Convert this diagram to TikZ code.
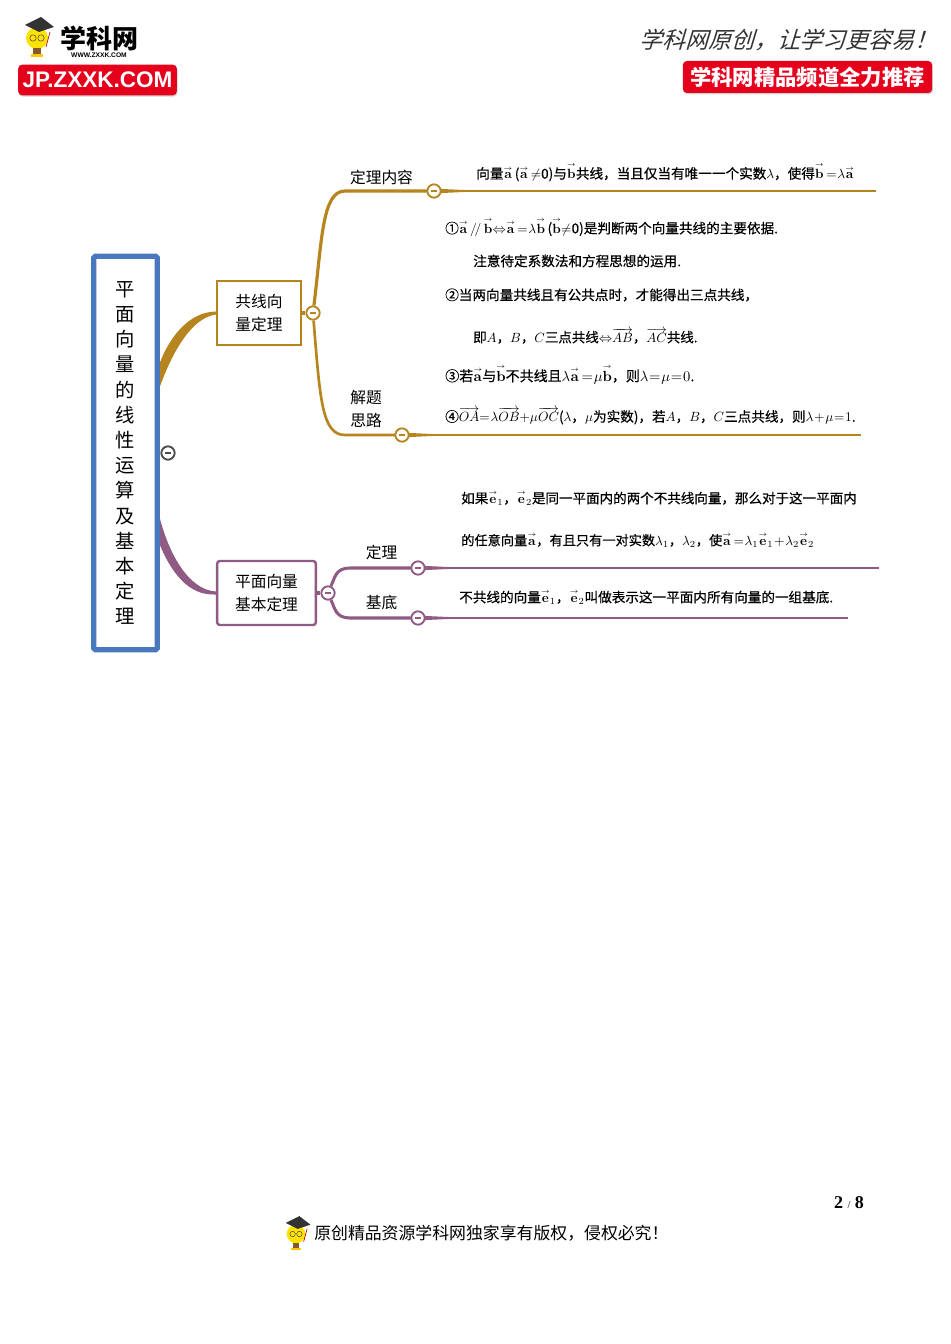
\documentclass[tikz,border=0pt]{standalone}
\usepackage[no-math]{fontspec}
\usepackage{amsmath}
\usetikzlibrary{shadows,calc,backgrounds}
\setmainfont{Liberation Serif}
\newfontfamily\cjk{Noto Sans CJK SC}
\newfontfamily\cjkbody[FakeBold=0.5]{Noto Sans CJK SC}
\newfontfamily\cjkhand[AutoFakeSlant=0.3]{Noto Sans CJK SC}
\newfontfamily\logofont{Liberation Sans}
\definecolor{goldline}{HTML}{B7851F}
\definecolor{plumline}{HTML}{8F5A83}
\definecolor{rootblue}{HTML}{4A78BC}
\definecolor{logored}{HTML}{E5001C}
\thickmuskip=1mu
\medmuskip=1mu
\newcommand{\vect}[1]{\ensuremath{\overset{\scriptscriptstyle\rightarrow}{\mathbf{#1}}}}
\newcommand{\vecl}[1]{\ensuremath{\overrightarrow{#1}}}
\newcommand{\minusbar}{\rule{4.6pt}{1.1pt}}
\tikzset{
    rootbox/.style = {draw=rootblue, line width=3.9pt, rounded corners=1pt, minimum width=47.5pt, minimum height=295pt, inner sep=0pt, align=center, font=\cjk\fontsize{14.5pt}{18.9pt}\selectfont},
    subbox/.style = {draw=#1, line width=1.8pt, fill=white, inner sep=0pt, align=center, font=\cjk\fontsize{11.8pt}{16.8pt}\selectfont},
    topic/.style = {inner sep=0pt, align=left, font=\cjk\fontsize{11.8pt}{16.6pt}\selectfont},
    collapse/.style = {circle, draw=#1, text=#1, fill=white, line width=1.4pt, minimum size=10pt, inner sep=0pt},
    bodytext/.style = {anchor=west, inner sep=0pt, font=\cjkbody\fontsize{#1pt}{#1pt}\selectfont},
    logobox/.style = {fill=logored, rounded corners=3pt, text=white, inner sep=0pt, drop shadow={opacity=.35, shadow xshift=.6pt, shadow yshift=-1pt}},
    mascot/.pic = {
        \fill[yellow!85!orange] (0,0) circle (11);
        \fill[black!80] (-12,-13) -- (4,-21) -- (17,-11) -- (2,-6) -- cycle;
        \draw[black!70, line width=.4pt] (-4,0) circle (3.2) (4,0) circle (3.2);
        \draw[red!70!black, line width=.5pt] (13,-6) -- (9,9);
        \fill[brown!70!black] (-4,10) rectangle (4,16);
        \fill[yellow!60!orange] (-6,16) rectangle (6,19);
    }
}
\begin{document}
\begin{tikzpicture}[x=0.75pt, y=-0.75pt]
\useasboundingbox (0,0) rectangle (950,1344);

\pic at (37,38) {mascot};
\node[inner sep=0pt, font=\cjk\bfseries\fontsize{19.5pt}{19.5pt}\selectfont] (logoname) at (99,38) {学科网};
\node[inner sep=0pt, font=\logofont\bfseries\fontsize{5pt}{5pt}\selectfont] (logourl) at (99,55) {WWW.ZXXK.COM};
\node[logobox, minimum width=119pt, minimum height=23pt, font=\logofont\bfseries\fontsize{16.9pt}{16.9pt}\selectfont] (logojp) at (97.5,80) {JP.ZXXK.COM};
\node[inner sep=0pt, text=black!80, font=\cjkhand\itshape\fontsize{17.2pt}{17.2pt}\selectfont] (slogan) at (788.5,40) {学科网原创，让学习更容易！};
\node[logobox, minimum width=187pt, minimum height=24pt, font=\cjk\bfseries\fontsize{16pt}{16pt}\selectfont] (channel) at (807.5,77) {学科网精品频道全力推荐};

\node[rootbox] (root) at (125.5,453) {平\\面\\向\\量\\的\\线\\性\\运\\算\\及\\基\\本\\定\\理};
\node[subbox=goldline, minimum width=63pt, minimum height=48pt] (gongxian) at (259,313) {共线向\\量定理};
\node[subbox=plumline, rounded corners=2pt, minimum width=74pt, minimum height=48pt] (jiben) at (266.5,593) {平面向量\\基本定理};

\node[collapse=black!70] (btnroot) at (168,453) {\minusbar};
\node[collapse=goldline] (btngold) at (313,313) {\minusbar};
\node[collapse=goldline] (btnneirong) at (434,191) {\minusbar};
\node[collapse=goldline] (btnsilu) at (402,435) {\minusbar};
\node[collapse=plumline] (btnplum) at (328,593) {\minusbar};
\node[collapse=plumline] (btndingli) at (418,568) {\minusbar};
\node[collapse=plumline] (btnjidi) at (418,618) {\minusbar};

\coordinate (rootgoldA) at (159,365);
\coordinate (rootgoldB) at (159,389);
\coordinate (rootplumA) at (159,515);
\coordinate (rootplumB) at (159,543);
\coordinate (neirongend) at (876,191);
\coordinate (siluend) at (861,435);
\coordinate (dingliend) at (879,568);
\coordinate (jidiend) at (848,618);

\begin{scope}[on background layer]
\fill[goldline] (rootgoldA) .. controls (170,335) and (190,312) .. ($(gongxian.west)+(0,-1.5)$) -- ($(gongxian.west)+(0,1.5)$) .. controls (192,318) and (173,350) .. (rootgoldB) -- cycle;
\fill[plumline] (rootplumA) .. controls (168,552) and (188,590) .. ($(jiben.west)+(0,-1.5)$) -- ($(jiben.west)+(0,1.5)$) .. controls (188,596) and (171,572) .. (rootplumB) -- cycle;
\draw[goldline, line width=3.2pt] (gongxian.east) -- (btngold);
\draw[goldline, line width=2.4pt] (btngold) .. controls (322,240) and (322,191) .. (345,191) -- (btnneirong);
\draw[goldline, line width=2pt] (btngold) .. controls (320,400) and (322,435) .. (345,435) -- (btnsilu);
\draw[goldline, line width=1.9pt] (btnneirong) -- (neirongend);
\draw[goldline, line width=1.9pt] (btnsilu) -- (siluend);
\draw[plumline, line width=3.2pt] (jiben.east) -- (btnplum);
\draw[plumline, line width=2.3pt] (btnplum) .. controls (335,577) and (336,568) .. (350,568) -- (btndingli);
\draw[plumline, line width=2.3pt] (btnplum) .. controls (335,609) and (336,618) .. (350,618) -- (btnjidi);
\draw[plumline, line width=1.9pt] (btndingli) -- (dingliend);
\draw[plumline, line width=1.9pt] (btnjidi) -- (jidiend);
\foreach \btn/\col in {btnneirong/goldline, btnsilu/goldline, btndingli/plumline, btnjidi/plumline}
    \fill[\col] ($(\btn)+(-16,0)$) -- ($(\btn)+(0,-2.4)$) -- ($(\btn)+(34,-.8)$) -- ($(\btn)+(34,.8)$) -- ($(\btn)+(0,2.4)$) -- cycle;
\end{scope}

\node[topic] (neirong) at (381.5,177) {定理内容};
\node[topic] (silu) at (366,409) {解题\\思路};
\node[topic] (dingli) at (381.5,552) {定理};
\node[topic] (jidi) at (381.5,603) {基底};

\node[bodytext=10.2] (lineA) at (476,172) {向量\vect{a}\,(\vect{a}\,$\neq$0)与\vect{b}共线，当且仅当有唯一一个实数$\lambda$，使得\vect{b}\,$=\lambda$\vect{a}};
\node[bodytext=10.2] (lineB) at (445,227) {①\vect{a}\,$/\!/$\,\vect{b}$\Leftrightarrow$\vect{a}\,$=\lambda$\vect{b}\,(\vect{b}$\neq$0)是判断两个向量共线的主要依据.};
\node[bodytext=10.2] (lineC) at (473,261) {注意待定系数法和方程思想的运用.};
\node[bodytext=10.2] (lineD) at (445,295) {②当两向量共线且有公共点时，才能得出三点共线，};
\node[bodytext=10.1] (lineE) at (473,336) {即$A$，$B$，$C$三点共线$\Leftrightarrow$\vecl{AB}，\vecl{AC}共线.};
\node[bodytext=10.5] (lineF) at (445,374) {③若\vect{a}与\vect{b}不共线且$\lambda$\vect{a}\,$=\mu$\vect{b}，则$\lambda=\mu=0$.};
\node[bodytext=10.2] (lineG) at (445,416) {④\vecl{OA}$=\lambda$\vecl{OB}$+\mu$\vecl{OC}($\lambda$，$\mu$为实数)，若$A$，$B$，$C$三点共线，则$\lambda+\mu=1$.};
\node[bodytext=10.15] (lineH) at (461,498) {如果\vect{e}$_1$，\vect{e}$_2$是同一平面内的两个不共线向量，那么对于这一平面内};
\node[bodytext=9.9] (lineI) at (461,540) {的任意向量\vect{a}，有且只有一对实数$\lambda_1$，$\lambda_2$，使\vect{a}\,$=\lambda_1$\vect{e}$_1+\lambda_2$\vect{e}$_2$};
\node[bodytext=10.2] (lineJ) at (459,597) {不共线的向量\vect{e}$_1$，\vect{e}$_2$叫做表示这一平面内所有向量的一组基底.};

\node[inner sep=0pt, font=\bfseries\fontsize{13.5pt}{13.5pt}\selectfont] (pagenum) at (849,1203) {2 {\mdseries\fontsize{8pt}{8pt}\selectfont/} 8};
\pic[scale=0.85] at (296,1234) {mascot};
\node[inner sep=0pt, anchor=west, font=\cjk\fontsize{12.65pt}{12.65pt}\selectfont] (footer) at (314,1233) {原创精品资源学科网独家享有版权，侵权必究！};
\end{tikzpicture}
\end{document}
